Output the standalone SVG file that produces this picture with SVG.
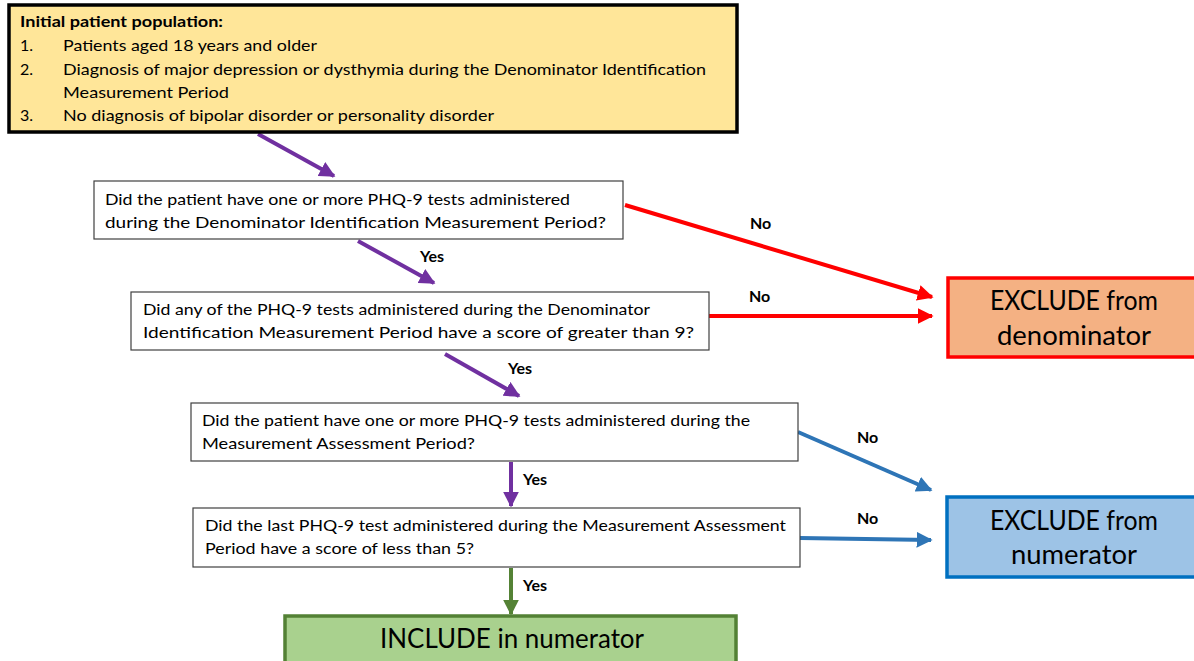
<svg xmlns="http://www.w3.org/2000/svg" width="1194" height="661" viewBox="0 0 1194 661">
  <style>
    text { font-family: Lato, "Open Sans", "Liberation Sans", sans-serif; fill: #000; }
    .body { font-size: 16px; }
    .big { font-size: 26px; }
    .lbl { font-size: 16px; font-weight: bold; }
    .q { fill: #fff; stroke: #404040; stroke-width: 1.2; }
    .purple { stroke: #7030A0; stroke-width: 4; fill: none; }
    .red { stroke: #FF0000; stroke-width: 4; fill: none; }
    .blue { stroke: #2E75B6; stroke-width: 4; fill: none; }
    .green { stroke: #548235; stroke-width: 4; fill: none; }
  </style>
  <defs>
    <marker id="mPurple" viewBox="0 0 10 10" refX="9" refY="5" markerWidth="4" markerHeight="4" orient="auto" markerUnits="strokeWidth">
      <path d="M0,0 L10,5 L0,10 Z" fill="#7030A0"/>
    </marker>
    <marker id="mRed" viewBox="0 0 10 10" refX="9" refY="5" markerWidth="4" markerHeight="4" orient="auto" markerUnits="strokeWidth">
      <path d="M0,0 L10,5 L0,10 Z" fill="#FF0000"/>
    </marker>
    <marker id="mBlue" viewBox="0 0 10 10" refX="9" refY="5" markerWidth="4" markerHeight="4" orient="auto" markerUnits="strokeWidth">
      <path d="M0,0 L10,5 L0,10 Z" fill="#2E75B6"/>
    </marker>
    <marker id="mGreen" viewBox="0 0 10 10" refX="9" refY="5" markerWidth="4" markerHeight="4" orient="auto" markerUnits="strokeWidth">
      <path d="M0,0 L10,5 L0,10 Z" fill="#548235"/>
    </marker>
  </defs>

  <rect width="1194" height="661" fill="#fff"/>

  <!-- connectors -->
  <g id="connectors">
    <line class="purple" x1="258" y1="134" x2="334" y2="176" marker-end="url(#mPurple)"/>
    <line class="purple" x1="358" y1="241" x2="434" y2="283" marker-end="url(#mPurple)"/>
    <line class="purple" x1="445" y1="354" x2="519" y2="396" marker-end="url(#mPurple)"/>
    <line class="purple" x1="511" y1="462" x2="511" y2="506" marker-end="url(#mPurple)"/>
    <line class="green" x1="511" y1="568" x2="511" y2="614" marker-end="url(#mGreen)"/>
    <line class="red" x1="625" y1="205" x2="932" y2="297" marker-end="url(#mRed)"/>
    <line class="red" x1="709" y1="316" x2="932" y2="316" marker-end="url(#mRed)"/>
    <line class="blue" x1="798" y1="432" x2="931" y2="490" marker-end="url(#mBlue)"/>
    <line class="blue" x1="800" y1="538" x2="931" y2="540" marker-end="url(#mBlue)"/>

    <text class="lbl" x="750" y="229">No</text>
    <text class="lbl" x="749" y="302">No</text>
    <text class="lbl" x="420" y="262">Yes</text>
    <text class="lbl" x="508" y="374">Yes</text>
    <text class="lbl" x="523" y="485">Yes</text>
    <text class="lbl" x="523" y="591">Yes</text>
    <text class="lbl" x="857" y="443">No</text>
    <text class="lbl" x="857" y="524">No</text>
  </g>

  <!-- initial population -->
  <g id="population">
    <rect x="9" y="5" width="728" height="127" fill="#FFE699" stroke="#000" stroke-width="3.5"/>
    <text class="body" x="20" y="27" font-weight="bold" textLength="203" lengthAdjust="spacingAndGlyphs">Initial patient population:</text>
    <text class="body" x="20" y="51">1.</text>
    <text class="body" x="63" y="51" textLength="254" lengthAdjust="spacingAndGlyphs">Patients aged 18 years and older</text>
    <text class="body" x="20" y="75">2.</text>
    <text class="body" x="63" y="75" textLength="643" lengthAdjust="spacingAndGlyphs">Diagnosis of major depression or dysthymia during the Denominator Identification</text>
    <text class="body" x="63" y="98" textLength="166" lengthAdjust="spacingAndGlyphs">Measurement Period</text>
    <text class="body" x="20" y="121">3.</text>
    <text class="body" x="63" y="121" textLength="431" lengthAdjust="spacingAndGlyphs">No diagnosis of bipolar disorder or personality disorder</text>
  </g>

  <!-- question 1 -->
  <g id="q1">
    <rect class="q" x="94" y="181" width="529" height="58"/>
    <text class="body" x="105" y="205" textLength="465" lengthAdjust="spacingAndGlyphs">Did the patient have one or more PHQ-9 tests administered</text>
    <text class="body" x="105" y="228" textLength="501" lengthAdjust="spacingAndGlyphs">during the Denominator Identification Measurement Period?</text>
  </g>

  <!-- question 2 -->
  <g id="q2">
    <rect class="q" x="131" y="292" width="578" height="58"/>
    <text class="body" x="143" y="315" textLength="507" lengthAdjust="spacingAndGlyphs">Did any of the PHQ-9 tests administered during the Denominator</text>
    <text class="body" x="143" y="338" textLength="551" lengthAdjust="spacingAndGlyphs">Identification Measurement Period have a score of greater than 9?</text>
  </g>

  <!-- question 3 -->
  <g id="q3">
    <rect class="q" x="191" y="403" width="607" height="58"/>
    <text class="body" x="202" y="426" textLength="548" lengthAdjust="spacingAndGlyphs">Did the patient have one or more PHQ-9 tests administered during the</text>
    <text class="body" x="202" y="449" textLength="273" lengthAdjust="spacingAndGlyphs">Measurement Assessment Period?</text>
  </g>

  <!-- question 4 -->
  <g id="q4">
    <rect class="q" x="193" y="508" width="607" height="59"/>
    <text class="body" x="205" y="531" textLength="581" lengthAdjust="spacingAndGlyphs">Did the last PHQ-9 test administered during the Measurement Assessment</text>
    <text class="body" x="205" y="554" textLength="269" lengthAdjust="spacingAndGlyphs">Period have a score of less than 5?</text>
  </g>

  <!-- exclude from denominator -->
  <g id="exclude-denominator">
    <rect x="948" y="278" width="250" height="79" fill="#F4B183" stroke="#FF0000" stroke-width="3.5"/>
    <text class="big" x="990" y="310" textLength="168" lengthAdjust="spacingAndGlyphs">EXCLUDE from</text>
    <text class="big" x="997" y="345" textLength="154" lengthAdjust="spacingAndGlyphs">denominator</text>
  </g>

  <!-- exclude from numerator -->
  <g id="exclude-numerator">
    <rect x="947" y="497" width="250" height="80" fill="#9DC3E6" stroke="#0070C0" stroke-width="3.5"/>
    <text class="big" x="990" y="530" textLength="168" lengthAdjust="spacingAndGlyphs">EXCLUDE from</text>
    <text class="big" x="1011" y="564" textLength="126" lengthAdjust="spacingAndGlyphs">numerator</text>
  </g>

  <!-- include in numerator -->
  <g id="include-numerator">
    <rect x="285" y="616" width="451" height="60" fill="#A9D18E" stroke="#538135" stroke-width="3.5"/>
    <text class="big" x="380" y="648" textLength="264" lengthAdjust="spacingAndGlyphs">INCLUDE in numerator</text>
  </g>
</svg>
